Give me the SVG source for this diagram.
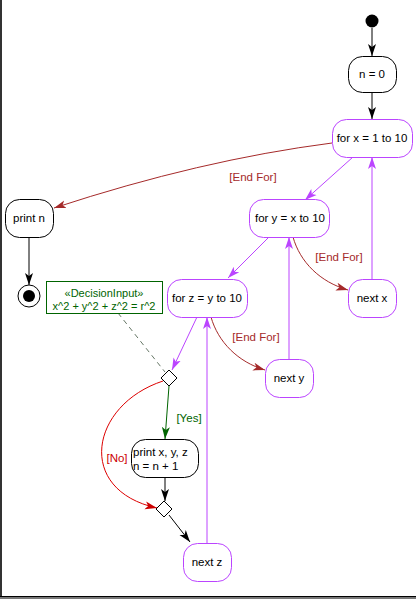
<svg xmlns="http://www.w3.org/2000/svg" width="416" height="599" viewBox="0 0 416 599">
<defs>
<style>
text{font-family:"Liberation Sans",Arial,sans-serif;font-size:11.5px;fill:#000}
.c{text-anchor:middle}
.sm{font-size:11px}
.nb{fill:#fff;stroke:#000;stroke-width:1}
.np{fill:#fff;stroke:#bb44ff;stroke-width:1}
.lp{fill:none;stroke:#bb44ff;stroke-width:1}
.lk{fill:none;stroke:#000;stroke-width:1}
.lr{fill:none;stroke:#a52a2a;stroke-width:1}
.lred{fill:none;stroke:#dd0000;stroke-width:1}
.lg{fill:none;stroke:#006400;stroke-width:1}
.tr{fill:#a52a2a}
.tg{fill:#006400}
.tred{fill:#cc0000}
</style>
<marker id="ak" viewBox="0 0 12 10" refX="12" refY="5" markerWidth="12" markerHeight="10" markerUnits="userSpaceOnUse" orient="auto"><path d="M0,1 L12,5 L0,9 L3,5 Z" fill="#000"/></marker>
<marker id="ap" viewBox="0 0 12 10" refX="12" refY="5" markerWidth="12" markerHeight="10" markerUnits="userSpaceOnUse" orient="auto"><path d="M0,1 L12,5 L0,9 L3,5 Z" fill="#bb44ff"/></marker>
<marker id="ar" viewBox="0 0 12 10" refX="12" refY="5" markerWidth="12" markerHeight="10" markerUnits="userSpaceOnUse" orient="auto"><path d="M0,1 L12,5 L0,9 L3,5 Z" fill="#a52a2a"/></marker>
<marker id="ared" viewBox="0 0 12 10" refX="12" refY="5" markerWidth="12" markerHeight="10" markerUnits="userSpaceOnUse" orient="auto"><path d="M0,1 L12,5 L0,9 L3,5 Z" fill="#cc0000"/></marker>
<marker id="ag" viewBox="0 0 12 10" refX="12" refY="5" markerWidth="12" markerHeight="10" markerUnits="userSpaceOnUse" orient="auto"><path d="M0,1 L12,5 L0,9 L3,5 Z" fill="#006400"/></marker>
</defs>
<rect x="0" y="0" width="416" height="599" fill="#fff"/>
<rect x="0" y="0" width="2" height="597" fill="#333"/>
<rect x="0" y="596" width="416" height="1" fill="#000"/>
<rect x="0" y="597" width="416" height="2" fill="#777"/>

<g id="connectors">
<path class="lk" d="M372,28 L372,56" marker-end="url(#ak)"/>
<path class="lk" d="M372,92 L372,119" marker-end="url(#ak)"/>
<path class="lp" d="M372,279 L372,157" marker-end="url(#ap)"/>
<path class="lp" d="M353,157 L305,200" marker-end="url(#ap)"/>
<path class="lr" d="M332,143 Q200,160 54,208" marker-end="url(#ar)"/>
<text class="tr c" x="253" y="181">[End For]</text>
<path class="lk" d="M29,237 L29,285" marker-end="url(#ak)"/>
<path class="lp" d="M269,237 L228,278" marker-end="url(#ap)"/>
<path class="lr" d="M293,237 C300,262 320,282 348,290" marker-end="url(#ar)"/>
<text class="tr c" x="339" y="261">[End For]</text>
<path class="lp" d="M289,359 L289,237" marker-end="url(#ap)"/>
<path class="lr" d="M211,317 C218,342 238,362 265,370" marker-end="url(#ar)"/>
<text class="tr c" x="256" y="341">[End For]</text>
<path class="lp" d="M197,317 L172,370" marker-end="url(#ap)"/>
<path d="M118,313 L165,372" fill="none" stroke="#667766" stroke-width="1" stroke-dasharray="5,4"/>
<path class="lg" d="M169,386 L165,439" marker-end="url(#ag)"/>
<text class="tg c" x="189" y="422">[Yes]</text>
<path class="lred" d="M163,381 C90,405 75,490 157,508" marker-end="url(#ared)"/>
<text class="tred c" x="117" y="462">[No]</text>
<path class="lk" d="M165,477 L165,501" marker-end="url(#ak)"/>
<path class="lk" d="M169,515 L190,542" marker-end="url(#ak)"/>
<path class="lp" d="M207,543 L207,317" marker-end="url(#ap)"/>
</g>

<g id="start"><circle cx="372" cy="21" r="6.5" fill="#000"/></g>
<g id="n0"><rect class="nb" x="348.5" y="56.5" width="48" height="36" rx="14"/><text class="c" x="372" y="78">n = 0</text></g>
<g id="forx"><rect class="np" x="332.5" y="119.5" width="80" height="38" rx="14"/><text class="c" x="372" y="142">for x = 1 to 10</text></g>
<g id="printn"><rect class="nb" x="5.5" y="199.5" width="48" height="38" rx="14"/><text class="c" x="29" y="222">print n</text></g>
<g id="end"><circle cx="29" cy="296" r="11" fill="#fff" stroke="#000"/><circle cx="29" cy="296" r="6" fill="#000"/></g>
<g id="fory"><rect class="np" x="249.5" y="199.5" width="80" height="38" rx="14"/><text class="c" x="290" y="222">for y = x to 10</text></g>
<g id="forz"><rect class="np" x="167.5" y="279.5" width="80" height="38" rx="14"/><text class="c" x="207" y="302">for z = y to 10</text></g>
<g id="nextx"><rect class="np" x="348.5" y="279.5" width="48" height="38" rx="14"/><text class="c" x="372" y="302">next x</text></g>
<g id="nexty"><rect class="np" x="265.5" y="359.5" width="48" height="38" rx="14"/><text class="c" x="289" y="382">next y</text></g>
<g id="note"><rect x="46.5" y="281.5" width="116" height="32" fill="#fff" stroke="#006400"/><text class="tg c sm" x="104" y="297">«DecisionInput»</text><text class="tg c sm" x="104" y="310">x^2 + y^2 + z^2 = r^2</text></g>
<g id="dec1"><path d="M169,370 L177,378 L169,386 L161,378 Z" fill="#fff" stroke="#000"/></g>
<g id="print"><rect class="nb" x="131.5" y="439.5" width="67" height="38" rx="14"/><text x="133" y="456">print x, y, z</text><text x="133" y="470">n = n + 1</text></g>
<g id="dec2"><path d="M164,501 L172,509 L164,517 L156,509 Z" fill="#fff" stroke="#000"/></g>
<g id="nextz"><rect class="np" x="183.5" y="543.5" width="48" height="38" rx="14"/><text class="c" x="207" y="566">next z</text></g>
</svg>
